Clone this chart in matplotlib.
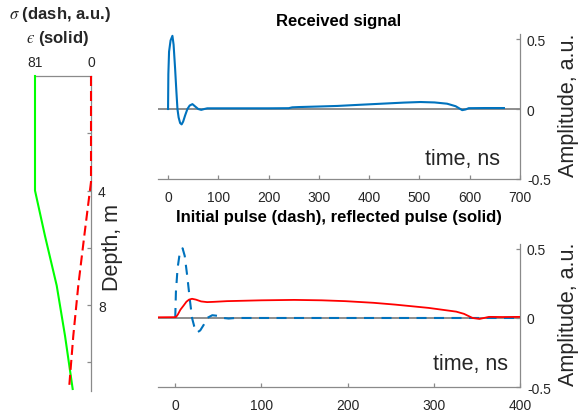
import matplotlib
matplotlib.use('Agg')
import matplotlib.pyplot as plt

plt.rcParams['font.family'] = ['Liberation Sans', 'DejaVu Sans']
plt.rcParams['mathtext.fontset'] = 'stix'
plt.rcParams['axes.unicode_minus'] = False

# ---------------- data ----------------
# left panel: permittivity (solid) and conductivity (dash) vs depth
depth_eps = [0, 4.0, 5.58, 7.32, 9.07, 10.93]
eps_vals = [81, 81, 66.6, 49.6, 37.6, 26.5]
depth_sig = [0, 3.7, 5.58, 7.32, 9.07, 10.93]
sig_vals = [0, 0, 9.7, 18.4, 25.6, 31.8]

# top panel: received signal
t_recv = [0, 0.6, 2, 5, 8.7, 11, 14, 16.5, 18.7, 21, 24, 27, 30, 34, 38.5, 43, 48.5,
          54, 60, 66, 72, 78, 100, 150, 200, 240, 247, 260, 300, 337, 380, 436, 470,
          502, 530, 555, 572, 580, 585, 592, 598, 630, 668]
a_recv = [0, 0.25, 0.41, 0.49, 0.523, 0.46, 0.29, 0.13, 0.0, -0.06, -0.10, -0.11, -0.09,
          -0.045, 0.0, 0.025, 0.035, 0.018, 0.0, -0.006, 0.0, 0.005, 0.005, 0.005, 0.005,
          0.006, 0.012, 0.014, 0.018, 0.022, 0.03, 0.04, 0.046, 0.05, 0.047, 0.038, 0.02,
          0.003, -0.008, -0.003, 0.006, 0.007, 0.007]

# bottom panel: initial pulse (dash)
t_init = [0, 0.8, 2.7, 5, 8.5, 11, 14, 17, 19.5, 22, 25.4, 29, 33, 37, 43, 50, 56, 62,
          70, 100, 200, 300, 400]
a_init = [0, 0.19, 0.36, 0.46, 0.505, 0.45, 0.3, 0.13, 0.0, -0.06, -0.105, -0.09, -0.05,
          0.0, 0.02, 0.015, 0.0, -0.004, 0.0, 0.0, 0.0, 0.0, 0.0]

# bottom panel: reflected pulse (solid)
t_refl = [-20, 0, 1, 3, 6, 9.7, 13, 16, 19.5, 24, 30, 37, 45, 60, 100, 138, 170, 197, 230,
          255, 294, 326, 335, 340, 345, 353, 364, 380, 400]
a_refl = [0.005, 0.006, 0.008, 0.025, 0.06, 0.09, 0.118, 0.133, 0.139, 0.133, 0.12, 0.115,
          0.117, 0.122, 0.128, 0.131, 0.128, 0.122, 0.11, 0.097, 0.073, 0.046, 0.03, 0.015,
          0.0, -0.007, 0.008, 0.007, 0.008]

# ---------------- style ----------------
W, H = 579, 414
AX_GRAY = '#8a8a8a'
TXT = '#262626'
BLUE = '#0072BD'


def px_rect(x0, y0, x1, y1):
    return [x0 / W, 1 - y1 / H, (x1 - x0) / W, (y1 - y0) / H]


fig = plt.figure(figsize=(W / 100, H / 100), dpi=100)

# ---------- left panel ----------
axL = fig.add_axes(px_rect(35, 77, 91, 392))
axL.plot(eps_vals, depth_eps, color='#00FF00', lw=1.5, zorder=3, clip_on=False)
axL.plot(sig_vals, depth_sig, color='#FF0000', lw=1.5, ls=(0, (4.8, 2.4)), zorder=4,
         clip_on=False)
axL.set_xlim(81, 0)
axL.set_ylim(11, 0)
for s in ['left', 'bottom']:
    axL.spines[s].set_visible(False)
for s in ['top', 'right']:
    axL.spines[s].set_color(AX_GRAY)
    axL.spines[s].set_linewidth(0.9)
axL.xaxis.tick_top()
axL.yaxis.tick_right()
axL.set_xticks([81, 0])
axL.set_xticklabels(['81', '0'])
axL.set_yticks([2, 4, 6, 8, 10])
axL.set_yticklabels(['', '4', '', '8', ''])
axL.tick_params(axis='x', direction='in', length=0, labelsize=10, labelcolor=TXT, pad=5)
axL.tick_params(axis='y', direction='in', length=3, color=AX_GRAY, width=0.9,
                labelsize=10, labelcolor=TXT, pad=5)
axL.patch.set_visible(False)
axL.text(1.39, 0.46, 'Depth, m', transform=axL.transAxes, rotation=90,
         ha='center', va='center', fontsize=15.5, color=TXT)
fig.text(60 / W, 1 - 15 / H, r'$\sigma$ (dash, a.u.)', ha='center', va='center',
         fontsize=12, fontweight='bold', color=TXT)
fig.text(58 / W, 1 - 38 / H, '$\u03f5$ (solid)', ha='center', va='center',
         fontsize=12, fontweight='bold', color=TXT)


def style_right(ax, xlim, xticks):
    ax.set_xlim(*xlim)
    ax.set_ylim(-0.5, 0.536)
    for s in ['left', 'top']:
        ax.spines[s].set_visible(False)
    for s in ['bottom', 'right']:
        ax.spines[s].set_color(AX_GRAY)
        ax.spines[s].set_linewidth(0.9)
    ax.yaxis.tick_right()
    ax.set_xticks(xticks)
    ax.set_xticklabels([str(v) for v in xticks])
    ax.set_yticks([-0.5, 0, 0.5])
    ax.set_yticklabels(['-0.5', '0', '0.5'])
    ax.tick_params(axis='both', direction='in', length=3, color=AX_GRAY, width=0.9,
                   labelsize=10, labelcolor=TXT)
    ax.tick_params(axis='x', pad=8)
    ax.tick_params(axis='y', pad=5)
    ax.axhline(0, color='#7a7a7a', lw=1.2, zorder=1)
    ax.text(1.133, 0.517, 'Amplitude, a.u.', transform=ax.transAxes, rotation=90,
            ha='center', va='center', fontsize=15.5, color=TXT)
    ax.patch.set_visible(False)


# ---------- top right panel ----------
axT = fig.add_axes(px_rect(158, 35, 520, 180))
axT.plot(t_recv, a_recv, color=BLUE, lw=1.5, zorder=3)
style_right(axT, (-20, 700), [0, 100, 200, 300, 400, 500, 600, 700])
axT.text(0.84, 0.103, 'time, ns', transform=axT.transAxes, ha='center', va='baseline',
         fontsize=15.5, color=TXT)
axT.text(0.5, 1.09, 'Received signal', transform=axT.transAxes, ha='center',
         va='center', fontsize=12, fontweight='bold', color='black')

# ---------- bottom right panel ----------
axB = fig.add_axes(px_rect(158, 245, 520, 388))
axB.plot(t_init, a_init, color=BLUE, lw=1.5, ls=(0, (4.8, 3.6)), zorder=3)
axB.plot(t_refl, a_refl, color='#FF0000', lw=1.3, zorder=4)
style_right(axB, (-20, 400), [0, 100, 200, 300, 400])
axB.text(0.863, 0.126, 'time, ns', transform=axB.transAxes, ha='center', va='baseline',
         fontsize=15.5, color=TXT)
axB.text(0.5, 1.189, 'Initial pulse (dash), reflected pulse (solid)',
         transform=axB.transAxes, ha='center', va='center', fontsize=12,
         fontweight='bold', color='black')

fig.savefig('out.png', dpi=100)
